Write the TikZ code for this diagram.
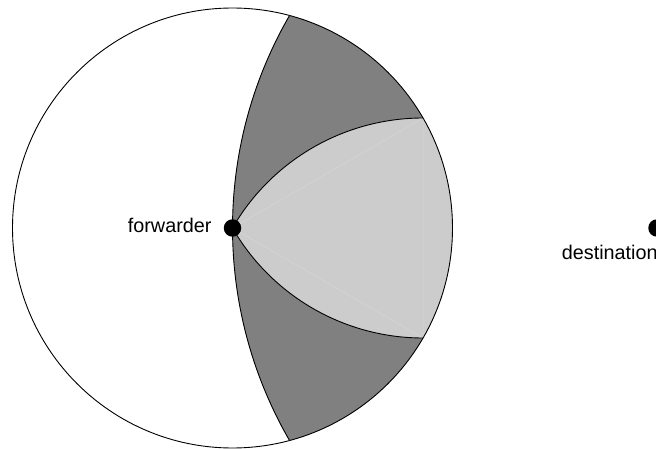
\documentclass[tikz,border=0pt]{standalone}
\usepackage{fontspec}
\setmainfont{Liberation Sans}
\usetikzlibrary{calc}
\begin{document}
\begin{tikzpicture}[x=1pt,y=1pt,
  outline/.style={draw=black,line width=0.9pt},
  dot/.style={circle,fill=black,inner sep=0pt,minimum size=17.5pt},
  lbl/.style={font=\fontsize{19.8}{23}\selectfont,inner sep=0pt},
  darkarea/.style={fill=black!50},
  lightarea/.style={fill=black!20},
  faint/.style={draw=black!16,line width=0.5pt}]
\useasboundingbox (0,0) rectangle (656,448);
\coordinate (F) at (232.5,220);
\coordinate (D) at (657,220);
\coordinate (Pu) at ($(F)+(30:220)$);
\coordinate (Pd) at ($(F)+(-30:220)$);
% dark region: big circle intersected with destination circle
\begin{scope}
  \clip (F) circle (220);
  \fill[darkarea] (D) circle (424.5);
\end{scope}
% light Reuleaux region
\fill[lightarea] (F) arc[start angle=150,end angle=90,radius=220]
  arc[start angle=30,end angle=-30,radius=220]
  arc[start angle=270,end angle=210,radius=220] -- cycle;
\draw[faint] (F) -- (Pu) -- (Pd) -- cycle;
% outlines
\draw[outline] (F) circle (220);
\draw[outline] (D) ++(149.96:424.5) arc[start angle=149.96,end angle=210.04,radius=424.5];
\draw[outline] (F) arc[start angle=150,end angle=90,radius=220];
\draw[outline] (F) arc[start angle=210,end angle=270,radius=220];
% nodes
\node[dot] (fw) at (F) {};
\node[dot] (dst) at (D) {};
\node[lbl,anchor=base east] (fwlbl) at (211.7,215.7) {forwarder};
\node[lbl,anchor=base west] (dstlbl) at (561.7,188.7) {destination};
\end{tikzpicture}
\end{document}
